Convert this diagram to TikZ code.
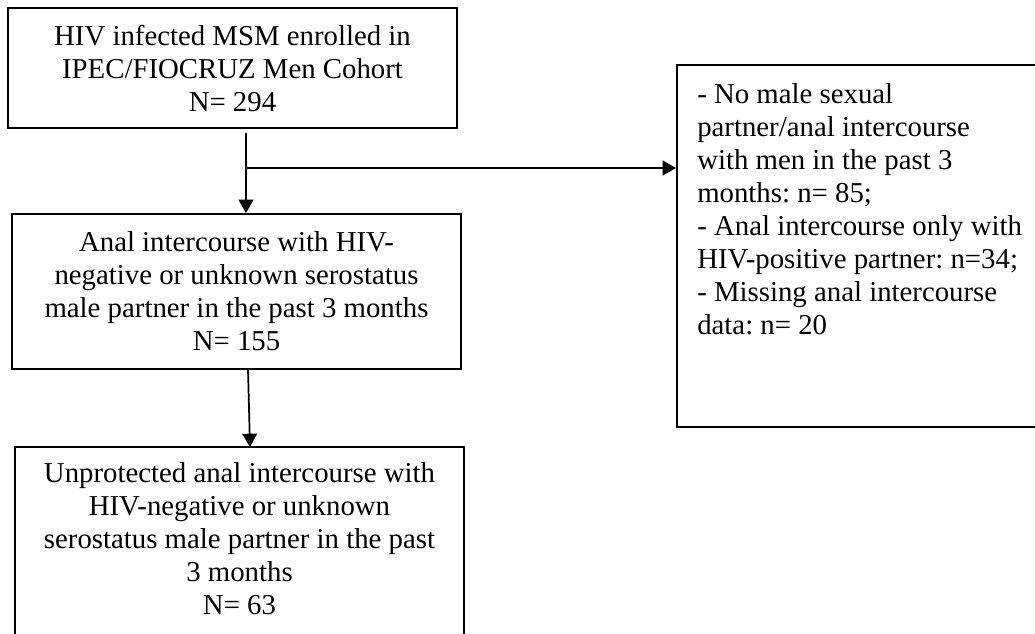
\documentclass[tikz,border=0pt]{standalone}
\usepackage{fontspec}
\setmainfont{Liberation Serif}
\usetikzlibrary{arrows.meta,fit}
\frenchspacing
\begin{document}
\begin{tikzpicture}[x=0.75pt,y=-0.75pt,
  box/.style={draw, line width=1.4pt, inner sep=0pt},
  txt/.style={font=\fontsize{21.6}{24.75}\selectfont, inner sep=0pt},
  arr/.style={line width=1.3pt, -{Triangle[length=10pt,width=11pt]}}]
\useasboundingbox (0,0) rectangle (1035,633);
\clip (0,0) rectangle (1035,633);
% boxes
\node[box, fit={(8,8) (457,128)}] (b1) {};
\node[box, fit={(12,214) (461,369)}] (b2) {};
\node[box, fit={(15,447) (464,720)}] (b3) {};
\node[box, fit={(677,65) (1100,427)}] (br) {};
% texts
\node[txt, anchor=north, align=center] (t1) at (232.5,25.4)
  {HIV infected MSM enrolled in\\IPEC/FIOCRUZ Men Cohort\\N= 294};
\node[txt, anchor=north, align=center] (t2) at (236.5,231.4)
  {Anal intercourse with HIV-\\negative or unknown serostatus\\male partner in the past 3 months\\N= 155};
\node[txt, anchor=north, align=center] (t3) at (239.5,462.4)
  {Unprotected anal intercourse with\\HIV-negative or unknown\\serostatus male partner in the past\\3 months\\N= 63};
\node[txt, anchor=north west, align=left] (tr) at (697,83.4)
  {- No male sexual\\partner/anal intercourse\\with men in the past 3\\months: n= 85;\\- Anal intercourse only with\\HIV-positive partner: n=34;\\- Missing anal intercourse\\data: n= 20};
% connectors
\coordinate (j) at (246,168);
\coordinate (s2) at (248,369);
\coordinate (n3) at (250,447);
\draw[arr, shorten <=3pt] (b1.south -| j) -- (j |- b2.north);
\draw[arr] (j) -- (j -| br.west);
\draw[arr] (s2) -- (n3);
\end{tikzpicture}
\end{document}
